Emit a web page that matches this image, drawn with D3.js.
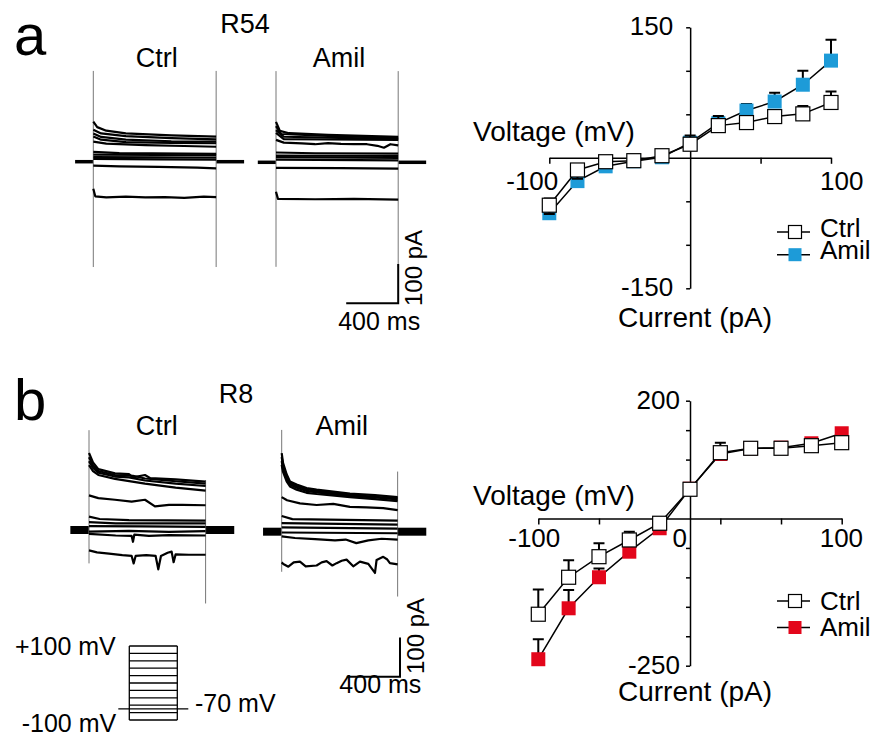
<!DOCTYPE html>
<html>
<head>
<meta charset="utf-8">
<script src="https://cdn.jsdelivr.net/npm/d3@7"></script>
<style>
    body { margin: 0; background: #fff; }
    svg { display: block; font-family: "Liberation Sans", Arial, Helvetica, sans-serif; }
</style>
</head>
<body>
<svg id="fig" width="877" height="738"></svg>
<script>
// ---- IV data (mV at each injected current, pA) ----
const currents = [-100, -80, -60, -40, -20, 0, 20, 40, 60, 80, 100];

const aCtrlV   = [-54.5, -14, -4.5, -3.3, 2.4, 15.6, 37, 40.5, 47.4, 50.5, 63.6];
const aCtrlErr = [-10, -10, -4, -3, -3, 10, 11, 4, 5, 9, 12.7];
const aAmilV   = [-63.7, -26.8, -9.8, -4, 0.6, 17.4, 39.8, 54.3, 64.7, 84, 111.7];
const aAmilErr = [17, 9, 5, 4, 3, 5, 6, 7.5, 10, 16, 24];

const bCtrlV   = [-162.6, -99.8, -64.9, -36.5, -8.1, 49.6, 111.7, 119.2, 119.2, 123.6, 128.7];
const bCtrlErr = [42, 29, 23, 14, 4, 4, 17, 5, 4, 3, 3];
const bAmilV   = [-239, -152.5, -99.8, -56.4, -16.6, 50.5, 109.5, 119, 120.3, 127.7, 144.7];
const bAmilErr = [34, 31, 15, 8, 4, 3, 5, 5, 5, 4, 6];

const aXTicks = [-100, 50, 100];
const aYTicks = [-150, -100, -50, 50, 100, 150];
const bXTicks = [-100, -60, -20, 20, 60, 100];
const bYTicks = [-250, -200, -150, -100, -50, 50, 100, 150, 200];
const aXTickLabels = [-100, 100];
const aYTickLabels = [150, -150];
const bXTickLabels = [-100, 0, 100];
const bYTickLabels = [200, -250];

// ---- current traces: [time ms from pulse onset, pA] for each step -100 ... +100 mV ----
const stepsMv = [-100, -80, -60, -40, -20, 0, 20, 40, 60, 80, 100];
const holdingMv = -70;
const pulseMs = [945, 940, 875, 870]; // a Ctrl, a Amil, b Ctrl, b Amil
const preMs = 140;
const postMs = 215;

const aCtrlTraces = [
    [[0, -69], [15, -88], [100, -91], [250, -89], [400, -91], [550, -90], [700, -92], [850, -89], [945, -90]],
    [[0, -10], [200, -12], [500, -13], [800, -15], [945, -17]],
    [[0, 7], [500, 6], [945, 5]],
    [[0, 12], [500, 11], [945, 10]],
    [[0, 18], [500, 17], [945, 16]],
    [[0, 25], [200, 22], [945, 20]],
    [[0, 51], [100, 46], [400, 42], [700, 40], [945, 38]],
    [[0, 64], [60, 56], [250, 50], [600, 48], [945, 47]],
    [[0, 72], [60, 63], [250, 56], [600, 52], [945, 51]],
    [[0, 81], [60, 72], [250, 65], [600, 60], [945, 57]],
    [[0, 102], [30, 88], [100, 79], [250, 72], [600, 67], [945, 64]]
];
const aAmilTraces = [
    [[0, -75], [15, -93], [300, -94], [600, -93], [940, -95]],
    [[0, -14], [500, -15], [940, -16]],
    [[0, 7], [940, 5]],
    [[0, 13], [940, 11]],
    [[0, 17], [940, 16]],
    [[0, 25], [300, 23], [940, 22]],
    [[0, 57], [60, 50], [200, 48], [300, 46], [400, 49], [500, 47], [600, 46], [700, 46], [780, 42], [830, 37], [880, 46], [940, 43]],
    [[0, 75], [60, 59], [400, 58], [940, 57]],
    [[0, 82], [60, 65], [400, 63], [940, 59]],
    [[0, 92], [40, 72], [400, 67], [940, 62]],
    [[0, 103], [30, 80], [100, 74], [400, 70], [940, 65]]
];
const bCtrlTraces = [
    [[0, -52], [60, -57], [150, -60], [250, -64], [320, -66], [335, -85], [350, -66], [430, -64], [500, -66], [520, -100], [540, -66], [590, -58], [620, -55], [635, -82], [650, -62], [750, -63], [875, -63]],
    [[0, -10], [200, -14], [320, -15], [330, -30], [340, -12], [450, -15], [600, -13], [875, -14]],
    [[0, -4], [300, -2], [600, -5], [875, -3]],
    [[0, 10], [400, 9], [875, 8]],
    [[0, 20], [200, 17], [875, 17]],
    [[0, 34], [80, 28], [300, 25], [875, 24]],
    [[0, 88], [70, 81], [195, 77], [320, 72], [420, 77], [495, 60], [600, 64], [700, 64], [875, 63]],
    [[0, 165], [30, 150], [70, 140], [195, 130], [420, 118], [650, 108], [875, 100]],
    [[0, 175], [30, 158], [70, 146], [195, 136], [300, 134], [420, 126], [650, 118], [875, 112]],
    [[0, 185], [30, 165], [70, 150], [195, 140], [330, 138], [420, 131], [650, 124], [875, 118]],
    [[0, 196], [30, 172], [70, 155], [195, 144], [300, 142], [330, 134], [420, 140], [460, 132], [650, 129], [875, 123]]
];
const bAmilTraces = [
    [[0, -78], [12, -82], [50, -89], [90, -78], [137, -76], [180, -88], [262, -86], [300, -78], [337, -75], [380, -86], [412, -80], [450, -74], [487, -71], [537, -88], [587, -76], [650, -82], [700, -105], [712, -72], [762, -64], [790, -70], [812, -80], [870, -83]],
    [[0, -12], [100, -16], [250, -19], [400, -22], [480, -20], [560, -29], [650, -22], [750, -18], [870, -20]],
    [[0, -2], [870, -4]],
    [[0, 11], [870, 8]],
    [[0, 22], [870, 18]],
    [[0, 40], [80, 32], [870, 28]],
    [[0, 88], [40, 80], [137, 72], [262, 68], [387, 71], [512, 63], [637, 62], [762, 60], [870, 55]],
    [[0, 170], [10, 152], [37, 128], [62, 115], [112, 107], [187, 99], [262, 96], [512, 88], [700, 83], [870, 78]],
    [[0, 180], [10, 160], [37, 134], [62, 120], [112, 112], [187, 104], [262, 100], [512, 91], [700, 87], [870, 82]],
    [[0, 190], [10, 168], [37, 140], [62, 124], [112, 116], [187, 108], [262, 104], [512, 94], [700, 89], [870, 85]],
    [[0, 200], [10, 175], [37, 146], [62, 128], [112, 120], [187, 111], [262, 107], [512, 97], [700, 93], [870, 88]]
];

// capacitive transients, [max, min] pA at onset and at offset
const aCtrlSpikes = [[231, -268], [231, -268]];
const aAmilSpikes = [[232, -266], [232, -266]];
const bCtrlSpikes = [[254, -85], [127, -187]];
const bAmilSpikes = [[259, -102], [153, -165]];

const blue = '#1d9bd8';
const red = '#e3061b';

(function() {

    const svg = d3.select('#fig');

    const drawTraces = cfg => {

        const x = d3.scaleLinear().domain([0, 400]).range([cfg.x0, cfg.x0 + cfg.px400]);
        const y = d3.scaleLinear().domain([0, 100]).range([cfg.y0, cfg.y0 - 39.3]);
        const line = d3.line().x(d => x(d[0])).y(d => y(d[1]));
        const g = svg.append('g');

        g.selectAll('.base')
            .data([[[-preMs, 0], [0, 0]], [[cfg.dur, 0], [cfg.dur + postMs, 0]]])
            .enter()
            .append('path')
            .attr('d', line)
            .attr('fill', 'none')
            .attr('stroke', '#000')
            .attr('stroke-width', cfg.baseW);

        g.selectAll('.spike')
            .data([[0, cfg.spikes[0]], [cfg.dur, cfg.spikes[1]]])
            .enter()
            .append('line')
            .attr('x1', d => x(d[0]))
            .attr('x2', d => x(d[0]))
            .attr('y1', d => y(d[1][0]))
            .attr('y2', d => y(d[1][1]))
            .attr('stroke', '#777')
            .attr('stroke-width', 1);

        g.selectAll('.trace')
            .data(cfg.traces)
            .enter()
            .append('path')
            .attr('d', line)
            .attr('fill', 'none')
            .attr('stroke', '#000')
            .attr('stroke-width', cfg.traceW)
            .attr('stroke-linejoin', 'round');

        return { x, y };
    };

    const scaleBar = (sc, px, py, labelY, pAy) => {
        const w = sc.x(400) - sc.x(0);
        const h = sc.y(0) - sc.y(100);
        svg.append('path')
            .attr('d', `M${px - w},${py}H${px}V${py - h}`)
            .attr('fill', 'none')
            .attr('stroke', '#000')
            .attr('stroke-width', 2);
        svg.append('text')
            .attr('x', px - w / 2 + 7)
            .attr('y', labelY)
            .attr('text-anchor', 'middle')
            .attr('font-size', 25)
            .text('400 ms');
        svg.append('text')
            .attr('transform', `translate(${px + 24},${pAy}) rotate(-90)`)
            .attr('text-anchor', 'middle')
            .attr('font-size', 24)
            .text('100 pA');
    };

    const drawIV = cfg => {

        const x = d3.scaleLinear().domain([-100, 100]).range(cfg.xr);
        const y = d3.scaleLinear().domain(cfg.yd).range(cfg.yr);
        const g = svg.append('g');

        const xAxis = g.append('g')
            .attr('transform', `translate(0,${y(0)})`)
            .call(d3.axisBottom(x).tickValues(cfg.xTicks).tickSize(6).tickSizeOuter(0).tickFormat(''));
        const yAxis = g.append('g')
            .attr('transform', `translate(${x(0)},0)`)
            .call(d3.axisLeft(y).tickValues(cfg.yTicks).tickSize(4).tickSizeOuter(0).tickFormat(''));
        [xAxis, yAxis].forEach(a => {
            a.selectAll('path, line').attr('stroke', '#000').attr('stroke-width', 1.5);
        });

        g.selectAll('.xlab')
            .data(cfg.xLabels)
            .enter()
            .append('text')
            .attr('x', d => x(d) + cfg.xLabelDx(d))
            .attr('y', y(0) + cfg.xLabelDy)
            .attr('text-anchor', d => d <= 0 ? 'end' : 'start')
            .attr('font-size', 26)
            .text(d => d);

        g.selectAll('.ylab')
            .data(cfg.yLabels)
            .enter()
            .append('text')
            .attr('x', x(0) - cfg.yLabelDx)
            .attr('y', d => y(d) + 8)
            .attr('text-anchor', 'end')
            .attr('font-size', 26)
            .text(d => d);

        g.append('text')
            .attr('x', 473)
            .attr('y', cfg.vLabelY)
            .attr('font-size', 28)
            .text('Voltage (mV)');
        g.append('text')
            .attr('x', 618)
            .attr('y', cfg.cLabelY)
            .attr('font-size', 28)
            .text('Current (pA)');

        const line = d3.line().x((d, i) => x(currents[i])).y(d => y(d));
        const sq = 14;

        // treatment first, control on top
        cfg.series.forEach(s => {
            const sg = g.append('g');
            sg.append('path')
                .datum(s.v)
                .attr('d', line)
                .attr('fill', 'none')
                .attr('stroke', '#000')
                .attr('stroke-width', 1.5);
            sg.selectAll('.err')
                .data(s.v)
                .enter()
                .append('path')
                .attr('d', (d, i) => {
                    const cx = x(currents[i]);
                    const ey = y(d + s.err[i]);
                    return `M${cx},${y(d)}V${ey}M${cx - 5.5},${ey}H${cx + 5.5}`;
                })
                .attr('fill', 'none')
                .attr('stroke', '#000')
                .attr('stroke-width', 2);
            sg.selectAll('.pt')
                .data(s.v)
                .enter()
                .append('rect')
                .attr('x', (d, i) => x(currents[i]) - sq / 2)
                .attr('y', d => y(d) - sq / 2)
                .attr('width', sq)
                .attr('height', sq)
                .attr('fill', s.fill)
                .attr('stroke', s.fill === '#fff' ? '#000' : 'none')
                .attr('stroke-width', 1.2);
        });

        // legend
        const lsq = 13;
        cfg.legend.forEach((s, i) => {
            const ly = cfg.legendY[i];
            g.append('line')
                .attr('x1', 777).attr('x2', 810)
                .attr('y1', ly).attr('y2', ly)
                .attr('stroke', '#000')
                .attr('stroke-width', 1.5);
            g.append('rect')
                .attr('x', 795 - lsq / 2)
                .attr('y', ly - lsq / 2)
                .attr('width', lsq)
                .attr('height', lsq)
                .attr('fill', s.fill)
                .attr('stroke', s.fill === '#fff' ? '#000' : 'none')
                .attr('stroke-width', 1.2);
            g.append('text')
                .attr('x', 820)
                .attr('y', ly + cfg.legendDy)
                .attr('font-size', 26)
                .text(s.name);
        });
    };

    // ---- panel a ----
    const aCtrl = drawTraces({ traces: aCtrlTraces, spikes: aCtrlSpikes, dur: pulseMs[0], x0: 93.3, y0: 161.7, px400: 52, baseW: 3.5, traceW: 2.2 });
    const aAmil = drawTraces({ traces: aAmilTraces, spikes: aAmilSpikes, dur: pulseMs[1], x0: 276, y0: 162.3, px400: 52, baseW: 3.5, traceW: 2.2 });
    scaleBar(aAmil, aAmil.x(pulseMs[1]), 303.3, 330, 268);

    drawIV({
        xr: [549.3, 831], yd: [-150, 150], yr: [288.3, 27.3],
        xTicks: aXTicks, yTicks: aYTicks,
        xLabels: aXTickLabels, xLabelDx: d => d < 0 ? 9 : -11, xLabelDy: 32,
        yLabels: aYTickLabels, yLabelDx: 17,
        vLabelY: 141, cLabelY: 327,
        series: [
            { v: aAmilV, err: aAmilErr, fill: blue },
            { v: aCtrlV, err: aCtrlErr, fill: '#fff' }
        ],
        legend: [{ name: 'Ctrl', fill: '#fff' }, { name: 'Amil', fill: blue }],
        legendY: [232, 254.7], legendDy: 4.5
    });

    // ---- panel b ----
    const bCtrl = drawTraces({ traces: bCtrlTraces, spikes: bCtrlSpikes, dur: pulseMs[2], x0: 89, y0: 530, px400: 53.3, baseW: 8, traceW: 2.2 });
    const bAmil = drawTraces({ traces: bAmilTraces, spikes: bAmilSpikes, dur: pulseMs[3], x0: 281.7, y0: 531.7, px400: 53.3, baseW: 8, traceW: 2.2 });
    scaleBar(bAmil, 400, 676.7, 693, 636);

    drawIV({
        xr: [538.3, 841.7], yd: [-250, 200], yr: [665.7, 400.7],
        xTicks: bXTicks, yTicks: bYTicks,
        xLabels: bXTickLabels, xLabelDx: d => d < 0 ? 22 : (d === 0 ? -3 : -22), xLabelDy: 29,
        yLabels: bYTickLabels, yLabelDx: 10,
        vLabelY: 505, cLabelY: 701,
        series: [
            { v: bAmilV, err: bAmilErr, fill: red },
            { v: bCtrlV, err: bCtrlErr, fill: '#fff' }
        ],
        legend: [{ name: 'Ctrl', fill: '#fff' }, { name: 'Amil', fill: red }],
        legendY: [601, 627.5], legendDy: 8.5
    });

    // ---- voltage protocol ----
    const pv = d3.scaleLinear().domain([-100, 100]).range([720, 646]);
    const px0 = 129.3, px1 = 177.3;
    const proto = svg.append('g').attr('stroke', '#000').attr('stroke-width', 1.3);
    proto.selectAll('.step')
        .data(stepsMv)
        .enter()
        .append('line')
        .attr('x1', px0).attr('x2', px1)
        .attr('y1', d => pv(d)).attr('y2', d => pv(d));
    proto.selectAll('.edge')
        .data([px0, px1])
        .enter()
        .append('line')
        .attr('x1', d => d).attr('x2', d => d)
        .attr('y1', pv(-100)).attr('y2', pv(100));
    proto.append('line')
        .attr('x1', 118.3).attr('x2', 188.3)
        .attr('y1', pv(holdingMv)).attr('y2', pv(holdingMv));

    const texts = [
        ['a', 14, 55, 58, 'start'],
        ['b', 14, 420, 58, 'start'],
        ['R54', 245, 33, 27, 'middle'],
        ['R8', 236, 403, 27, 'middle'],
        ['Ctrl', 156.7, 66.7, 27, 'middle'],
        ['Amil', 339, 66.7, 27, 'middle'],
        ['Ctrl', 156.7, 435, 27, 'middle'],
        ['Amil', 341.7, 435, 27, 'middle'],
        ['+100 mV', 15, 655, 25, 'start'],
        ['-100 mV', 21.7, 731.7, 25, 'start'],
        ['-70 mV', 195, 711.7, 25, 'start']
    ];
    svg.selectAll('.label')
        .data(texts)
        .enter()
        .append('text')
        .attr('x', d => d[1])
        .attr('y', d => d[2])
        .attr('font-size', d => d[3])
        .attr('text-anchor', d => d[4])
        .text(d => d[0]);

})();
</script>
</body>
</html>
